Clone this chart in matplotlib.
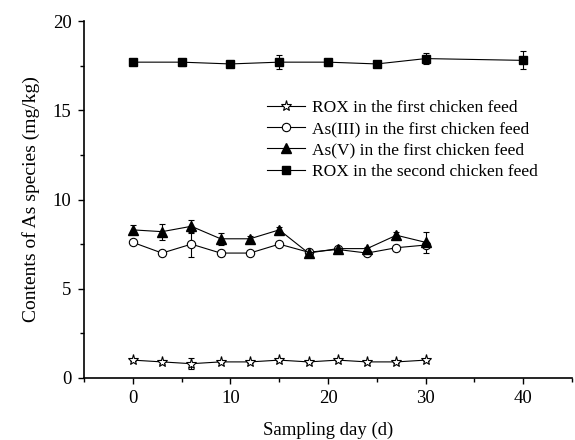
import matplotlib.pyplot as plt
from matplotlib.ticker import MultipleLocator

plt.rcParams['font.family'] = ['Liberation Serif', 'DejaVu Serif']

# sampling days
days_first = [0, 3, 6, 9, 12, 15, 18, 21, 24, 27, 30]
days_second = [0, 5, 10, 15, 20, 25, 30, 40]

# ROX in the first chicken feed
rox1 = [1.0, 0.9, 0.8, 0.9, 0.9, 1.0, 0.9, 1.0, 0.9, 0.9, 1.0]
rox1_err = [0.05, 0.1, 0.3, 0.05, 0.05, 0.05, 0.05, 0.05, 0.05, 0.05, 0.05]

# As(III) in the first chicken feed
as3 = [7.6, 7.0, 7.5, 7.0, 7.0, 7.5, 7.05, 7.2, 7.0, 7.3, 7.45]
as3_err = [0.1, 0.1, 0.7, 0.15, 0.1, 0.1, 0.1, 0.1, 0.1, 0.1, 0.1]

# As(V) in the first chicken feed
as5 = [8.3, 8.2, 8.5, 7.8, 7.8, 8.3, 7.0, 7.25, 7.25, 8.0, 7.6]
as5_err = [0.25, 0.45, 0.35, 0.35, 0.15, 0.15, 0.15, 0.1, 0.1, 0.2, 0.6]

# ROX in the second chicken feed
rox2 = [17.7, 17.7, 17.6, 17.7, 17.7, 17.6, 17.9, 17.8]
rox2_err = [0.1, 0.2, 0.1, 0.4, 0.2, 0.1, 0.3, 0.5]

labels = ['ROX in the first chicken feed',
          'As(III) in the first chicken feed',
          'As(V) in the first chicken feed',
          'ROX in the second chicken feed']

fig = plt.figure(figsize=(5.75, 4.4), dpi=100)
ax = fig.add_axes([0.146, 0.141, 0.849, 0.811])

common = dict(color='black', lw=0.8, elinewidth=0.8, capsize=2.5, capthick=0.8, markeredgecolor='black')
c1 = ax.errorbar(days_first, rox1, yerr=rox1_err, marker='*', ms=8, mfc='white', mew=0.8, **common)
c2 = ax.errorbar(days_first, as3, yerr=as3_err, marker='o', ms=6, mfc='white', mew=0.8, **common)
c3 = ax.errorbar(days_first, as5, yerr=as5_err, marker='^', ms=7, mfc='black', **common)
c4 = ax.errorbar(days_second, rox2, yerr=rox2_err, marker='s', ms=5.5, mfc='black', **common)

ax.set_xlim(-5, 45)
ax.set_ylim(0, 20)
ax.xaxis.set_major_locator(MultipleLocator(10))
ax.xaxis.set_minor_locator(MultipleLocator(5))
ax.yaxis.set_major_locator(MultipleLocator(5))
ax.yaxis.set_minor_locator(MultipleLocator(2.5))
ax.tick_params(which='major', direction='out', length=4, width=1, labelsize=13.5, pad=5)
ax.tick_params(which='minor', direction='out', length=3, width=1)
ax.spines['top'].set_visible(False)
ax.spines['right'].set_visible(False)
for s in ('left', 'bottom'):
    ax.spines[s].set_linewidth(1.2)

ax.set_xlabel('Sampling day (d)', fontsize=13.5, labelpad=10)
ax.set_ylabel('Contents of As species (mg/kg)', fontsize=14, labelpad=9)

# legend shows line + marker only, no error bars
handles = [c[0] for c in (c1, c2, c3, c4)]
ax.legend(handles, labels, loc='upper left', bbox_to_anchor=(0.36, 0.80), frameon=False, fontsize=12.5,
          handlelength=2.2, handletextpad=0.4, labelspacing=0.3, borderaxespad=0)

fig.savefig('out.png', dpi=100)
